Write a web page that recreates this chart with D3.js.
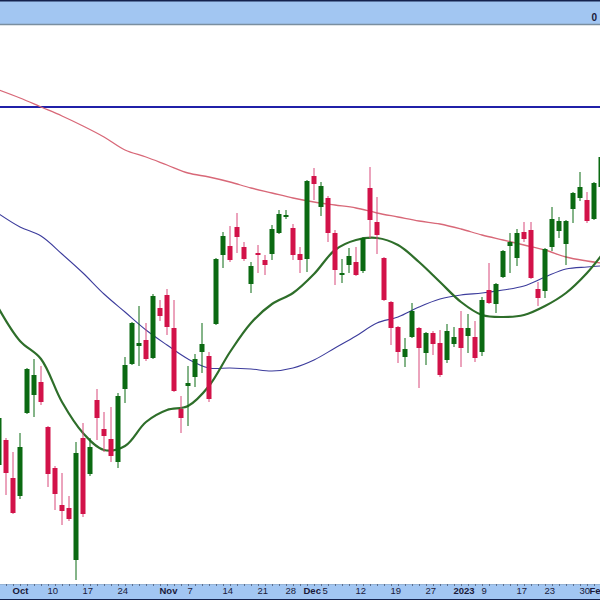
<!DOCTYPE html>
<html><head><meta charset="utf-8">
<script src="https://cdn.jsdelivr.net/npm/d3@7"></script>
<style>body{margin:0;background:#fff}svg{display:block}</style>
</head><body>
<svg id="c" width="600" height="600"></svg>
<script>
const dates = ["2022-09-29","2022-09-30","2022-10-03","2022-10-04","2022-10-05","2022-10-06","2022-10-07",
"2022-10-10","2022-10-11","2022-10-12","2022-10-13","2022-10-14","2022-10-17","2022-10-18","2022-10-19","2022-10-20","2022-10-21",
"2022-10-24","2022-10-25","2022-10-26","2022-10-27","2022-10-28","2022-10-31","2022-11-01","2022-11-02","2022-11-03","2022-11-04",
"2022-11-07","2022-11-08","2022-11-09","2022-11-10","2022-11-11","2022-11-14","2022-11-15","2022-11-16","2022-11-17","2022-11-18",
"2022-11-21","2022-11-22","2022-11-23","2022-11-25","2022-11-28","2022-11-29","2022-11-30","2022-12-01","2022-12-02",
"2022-12-05","2022-12-06","2022-12-07","2022-12-08","2022-12-09","2022-12-12","2022-12-13","2022-12-14","2022-12-15","2022-12-16",
"2022-12-19","2022-12-20","2022-12-21","2022-12-22","2022-12-23","2022-12-27","2022-12-28","2022-12-29","2022-12-30",
"2023-01-03","2023-01-04","2023-01-05","2023-01-06","2023-01-09","2023-01-10","2023-01-11","2023-01-12","2023-01-13",
"2023-01-17","2023-01-18","2023-01-19","2023-01-20","2023-01-23","2023-01-24","2023-01-25","2023-01-26","2023-01-27",
"2023-01-30","2023-01-31","2023-02-01","2023-02-02"];

const open  = [113.5,116.0,112.2,110.4,118.7,120.5,121.8,117.3,113.2,109.5,109.2,104.0,116.2,112.6,120.0,117.1,116.1,113.8,121.1,123.6,125.4,126.0,124.2,129.2,130.5,127.2,119.1,121.4,122.3,124.8,124.4,127.6,134.5,135.4,137.3,135.3,131.6,134.7,134.0,134.6,136.7,138.3,137.2,134.6,134.1,142.4,139.3,140.2,136.7,132.5,133.5,133.8,132.9,141.2,137.8,134.2,129.8,127.3,124.3,126.3,127.2,124.7,126.7,125.7,124.0,125.6,127.2,126.4,126.3,124.8,131.0,129.6,132.3,135.4,134.2,136.8,137.0,131.1,130.9,135.3,136.9,135.6,139.1,140.2,140.0,138.1,141.3];
const high  = [118.5,116.2,114.8,116.7,123.2,124.1,123.4,117.4,113.4,112.7,110.4,115.8,117.7,116.2,121.1,118.8,119.3,120.7,124.3,127.8,129.4,127.7,130.6,130.0,131.1,130.0,120.4,123.4,124.6,127.7,124.8,134.2,136.8,137.4,138.7,135.8,133.8,135.5,134.5,137.5,139.0,139.0,137.6,135.3,142.0,143.2,141.8,140.4,137.0,134.1,135.2,135.3,136.3,143.3,140.3,134.3,129.9,127.4,126.2,129.7,127.3,126.8,126.9,127.0,127.6,127.3,128.9,128.6,127.9,130.3,133.7,131.7,135.0,136.7,137.1,137.8,137.8,131.8,135.2,139.3,138.3,138.0,140.8,142.8,140.8,141.8,144.5];
const low   = [113.0,110.5,108.6,110.1,118.6,118.3,119.5,111.3,109.0,107.5,107.9,102.0,108.3,112.4,116.0,114.8,113.8,113.2,119.7,123.5,123.4,123.9,124.1,127.9,126.5,120.8,116.7,117.4,121.3,122.7,119.8,127.5,133.2,133.8,134.7,133.9,130.7,132.7,132.5,134.0,136.6,138.1,134.0,132.7,132.8,140.0,138.4,135.8,131.5,131.7,132.7,132.4,132.7,136.2,134.6,129.9,125.5,123.7,123.3,126.2,121.2,123.5,124.5,122.3,123.7,125.3,123.3,124.7,123.8,124.4,129.6,128.7,132.2,132.7,133.4,135.8,132.1,129.4,130.2,134.9,136.2,133.5,137.7,139.9,137.7,138.0,141.2];
const close = [118.2,112.7,108.7,115.3,123.1,122.5,119.8,112.6,110.6,108.9,108.1,114.7,108.6,115.3,118.2,116.4,114.4,120.4,123.5,127.7,125.7,124.1,130.4,128.4,127.3,120.9,118.2,121.7,124.1,125.6,120.1,134.1,136.4,134.0,136.3,134.1,133.4,134.5,133.5,137.1,138.6,138.5,134.5,134.0,141.9,141.6,141.4,136.7,133.0,132.7,134.4,132.5,136.2,138.0,136.5,130.0,127.2,124.8,125.1,128.9,125.2,126.7,125.6,122.5,126.9,126.3,125.2,127.2,124.2,130.0,129.7,131.6,134.9,135.8,136.7,136.1,132.2,130.2,135.1,138.1,137.9,137.9,140.7,141.3,137.9,141.7,144.3];

// moving averages read at every third session (index into dates)
const maIndex = [0,3,6,9,12,15,18,21,24,27,30,33,36,39,42,45,48,51,54,57,60,63,66,69,72,75,78,81,84,86];
const ma20  = [129.1,125.9,124.1,119.8,116.7,115.0,115.4,117.8,119.0,119.4,121.4,124.8,127.7,129.6,130.7,132.6,135.0,136.0,136.2,135.5,133.8,131.8,129.8,128.5,128.3,128.5,129.4,130.7,132.7,134.4];
const ma50  = [138.6,137.3,136.4,134.6,132.7,130.6,128.8,127.0,125.5,124.1,123.2,123.2,123.1,122.9,123.2,124.0,125.2,126.4,127.7,128.3,129.3,130.1,130.5,130.7,131.0,131.4,132.3,133.1,133.3,133.4];
const ma200 = [151.0,150.2,149.3,148.4,147.4,146.3,145.0,144.3,143.5,142.7,142.3,141.8,141.2,140.7,140.2,139.8,139.5,139.2,138.7,138.3,137.9,137.6,137.1,136.5,136.0,135.5,135.0,134.3,133.9,133.7];
const levelLine = 149.3;

const tickLabels = {"2022-10-03":"Oct","2022-10-10":"10","2022-10-17":"17","2022-10-24":"24","2022-11-01":"Nov",
"2022-11-07":"7","2022-11-14":"14","2022-11-21":"21","2022-11-28":"28","2022-12-01":"Dec","2022-12-05":"5",
"2022-12-12":"12","2022-12-19":"19","2022-12-27":"27","2023-01-03":"2023","2023-01-09":"9","2023-01-17":"17",
"2023-01-23":"23","2023-01-30":"30","2023-02-01":"Fe"};
const boldLabels = ["Oct","Nov","Dec","2023","Fe"];
const labelShift = {"Dec":-4, "5":1, "Fe":-5};

const W = 600, H = 600;
const svg = d3.select("#c");
const x = d3.scalePoint().domain(dates).range([-1, 601]);
const y = d3.scaleLinear().domain([100, 160]).range([600, 0]);

const GREEN = "#0b6a12", RED = "#d21249", RWICK = "#d8487a";

svg.append("defs").append("clipPath").attr("id","plot")
  .append("rect").attr("x",0).attr("y",25).attr("width",W).attr("height",559);
const g = svg.append("g").attr("clip-path","url(#plot)");

// level line
g.append("line").attr("x1",0).attr("x2",W).attr("y1",y(levelLine)).attr("y2",y(levelLine))
  .attr("stroke","#2020a8").attr("stroke-width",1.8);

const lineGen = vals => d3.line()
  .x((d,k) => x(dates[maIndex[k]])).y(d => y(d)).curve(d3.curveCatmullRom.alpha(0.5))(vals);

g.append("path").attr("d", lineGen(ma200)).attr("fill","none").attr("stroke","#d86878").attr("stroke-width",1.3);
g.append("path").attr("d", lineGen(ma50)).attr("fill","none").attr("stroke","#3c3c9c").attr("stroke-width",1.1);
g.append("path").attr("d", lineGen(ma20)).attr("fill","none").attr("stroke","#2e6e2a").attr("stroke-width",2.2);

const candles = dates.map((d,i) => ({d, o:open[i], h:high[i], l:low[i], c:close[i]}));
const cg = g.selectAll("g.cd").data(candles).join("g").attr("class","cd");
cg.append("line")
  .attr("x1", d => x(d.d)).attr("x2", d => x(d.d))
  .attr("y1", d => y(d.h)).attr("y2", d => y(d.l))
  .attr("stroke", d => d.c >= d.o ? GREEN : RWICK).attr("stroke-width",1);
cg.append("rect")
  .attr("x", d => x(d.d) - 2.5).attr("width",5)
  .attr("y", d => y(Math.max(d.o,d.c)))
  .attr("height", d => Math.max(1.5, Math.abs(y(d.o) - y(d.c))))
  .attr("fill", d => d.c >= d.o ? GREEN : RED);

// top band
svg.append("rect").attr("x",0).attr("y",0).attr("width",W).attr("height",25).attr("fill","#a2c6f2");
svg.append("line").attr("x1",0).attr("x2",W).attr("y1",0.75).attr("y2",0.75).attr("stroke","#14224e").attr("stroke-width",1.5);
svg.append("line").attr("x1",0).attr("x2",W).attr("y1",24.5).attr("y2",24.5).attr("stroke","#7a8ea0").attr("stroke-width",1.5);
svg.append("text").attr("x",597).attr("y",21).attr("text-anchor","end")
  .attr("font-family","Liberation Sans, Arial, sans-serif").attr("font-weight","bold").attr("font-size",10)
  .attr("fill","#1a1a3a").text("0");

// bottom axis band
svg.append("rect").attr("x",0).attr("y",584).attr("width",W).attr("height",16).attr("fill","#a2c6f2");
svg.append("line").attr("x1",0).attr("x2",W).attr("y1",599.5).attr("y2",599.5).attr("stroke","#14224e").attr("stroke-width",1);

const axis = d3.axisBottom(x).tickValues(dates).tickSize(2).tickSizeOuter(0)
  .tickFormat(d => tickLabels[d] || "");
const ax = svg.append("g").attr("transform","translate(0,584)").call(axis);
ax.select(".domain").attr("stroke","#8aa2bc").attr("stroke-width",0.5);
ax.selectAll(".tick line").attr("stroke","#4a5a78").attr("stroke-width",0.8);
ax.selectAll(".tick text")
  .attr("text-anchor","start").attr("dx", d => (labelShift[tickLabels[d]] ?? -1)).attr("y", 3)
  .attr("font-family","Liberation Sans, Arial, sans-serif").attr("font-size",9.5)
  .attr("font-weight", d => boldLabels.includes(tickLabels[d]) ? "bold" : "normal")
  .attr("fill","#1a1a3a");
</script>
</body></html>
